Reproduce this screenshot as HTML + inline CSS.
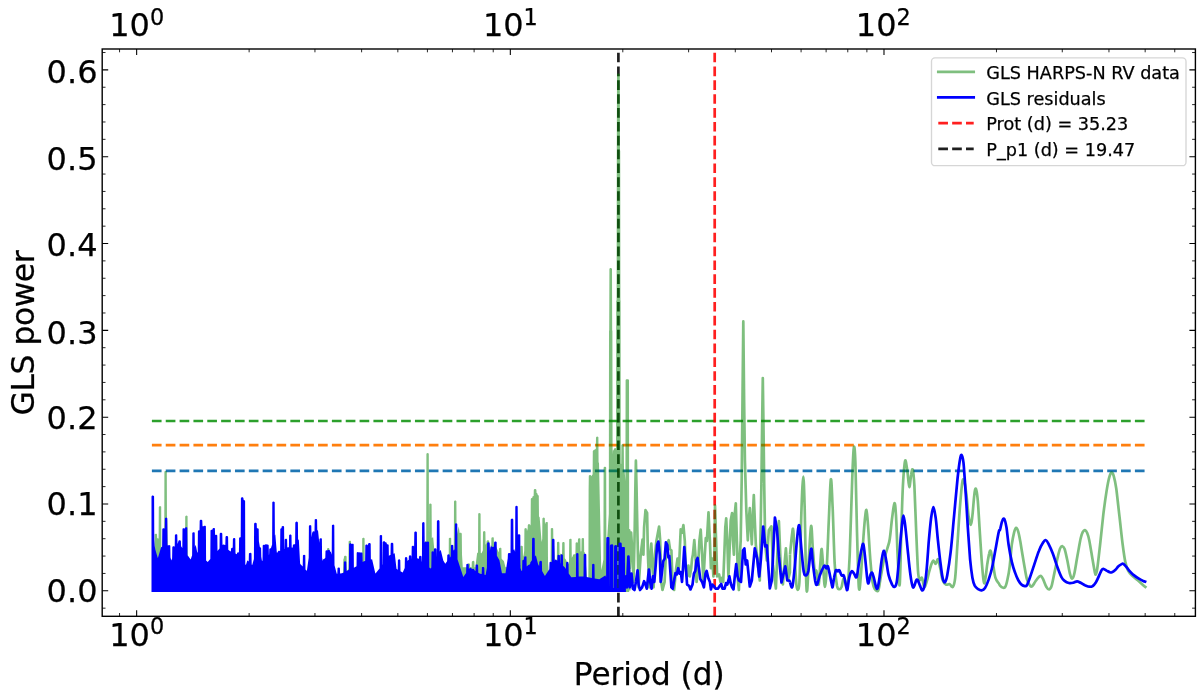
<!DOCTYPE html>
<html lang="en"><head><meta charset="utf-8"><title>GLS periodogram</title>
<style>html,body{margin:0;padding:0;background:#fff;overflow:hidden}svg{display:block}</style></head>
<body>
<svg width="1200" height="697" viewBox="0 0 1200 697" font-family="'DejaVu Sans', 'Liberation Sans', sans-serif" fill="#000">
<style>text{stroke:#000;stroke-width:0.25px}</style>
<rect x="0" y="0" width="1200" height="697" fill="#fff"/>
<line x1="151.9" x2="1144.7" y1="421.0" y2="421.0" stroke="#2ca02c" stroke-width="2.7" stroke-dasharray="9.67 4.175"/>
<line x1="151.9" x2="1144.7" y1="445.2" y2="445.2" stroke="#ff7f0e" stroke-width="2.7" stroke-dasharray="9.67 4.175"/>
<line x1="151.9" x2="1144.7" y1="470.9" y2="470.9" stroke="#1f77b4" stroke-width="2.7" stroke-dasharray="9.67 4.175"/>
<line x1="714.7" x2="714.7" y1="616.3" y2="49.0" stroke="#ff0000" stroke-opacity="0.88" stroke-width="2.7" stroke-dasharray="9.67 4.18"/>
<line x1="618.4" x2="618.4" y1="616.3" y2="49.0" stroke="#000000" stroke-opacity="0.88" stroke-width="2.7" stroke-dasharray="9.67 4.18"/>
<g opacity="0.5" fill="none" stroke="#008000" stroke-width="2.7" stroke-linejoin="round" stroke-linecap="butt">
<path d="M152.0,591.9L152.0,586.4L154.0,580.4L154.4,565.7L154.6,534.5L155.0,534.0L155.8,533.7L156.4,533.8L156.8,534.1L157.0,534.4L157.2,538.2L158.0,538.3L158.4,538.5L158.6,538.7L158.8,506.9L159.2,506.4L160.0,506.1L160.6,506.2L161.0,506.5L161.2,506.8L161.4,560.2L164.0,560.3L164.2,558.2L164.4,471.6L164.8,471.2L165.6,470.9L166.2,471.1L166.6,471.4L166.8,471.8L167.0,520.6L167.2,517.9L168.6,580.4L184.0,580.4L184.2,580.0L185.0,575.5L185.2,516.4L185.6,515.9L186.4,515.6L187.0,515.7L187.4,516.0L187.6,516.3L187.8,560.0L188.6,555.5L189.6,579.1L189.8,580.4L326.8,585.4L327.0,548.8L327.4,548.3L328.2,548.0L328.8,548.1L329.2,548.4L329.4,548.7L329.6,585.4L342.6,585.4L342.8,584.4L343.2,562.4L343.4,558.1L343.8,559.4L344.0,556.8L344.2,556.3L344.8,555.8L345.6,555.8L346.2,556.1L346.4,556.3L346.6,556.8L346.8,569.0L347.4,571.0L347.6,571.0L348.4,568.3L348.6,541.5L349.0,541.0L349.8,540.7L350.4,540.8L350.8,541.1L351.0,541.4L351.2,559.0L352.2,555.6L352.4,557.6L353.2,581.6L353.4,585.4L362.0,585.4L362.2,538.4L362.6,537.9L363.4,537.7L364.0,537.8L364.4,538.2L364.6,538.5L364.8,585.4L424.6,585.4L425.2,541.2L426.2,540.7L426.4,453.9L426.8,453.3L427.4,453.1L428.2,453.2L428.6,453.4L428.8,453.7L429.0,539.3L429.2,504.2L429.6,503.8L430.4,503.5L431.0,503.7L431.4,504.0L431.6,504.4L431.8,537.9L433.0,537.3L433.2,537.6L434.0,546.4L434.2,549.4L435.2,585.4L448.2,585.4L448.6,582.7L448.8,538.5L449.2,538.0L450.0,537.7L450.6,537.8L451.0,538.1L451.2,538.4L451.4,562.7L452.6,554.5L453.8,549.0L454.0,501.4L454.4,500.8L455.0,500.5L455.8,500.6L456.2,500.9L456.4,501.2L456.6,536.1L458.6,526.9L458.8,526.4L459.6,533.0L460.2,532.7L461.0,532.8L461.4,533.0L461.6,533.3L461.8,533.9L462.0,554.5L462.8,567.3L467.4,567.3L467.6,564.0L468.0,563.5L468.8,563.3L469.4,563.4L469.8,563.7L470.0,564.0L470.2,567.3L471.6,567.3L471.8,562.0L472.0,561.4L472.6,560.9L473.4,560.8L474.0,561.1L474.2,561.3L474.4,561.7L474.6,567.3L475.2,567.3L475.4,566.8L477.0,553.9L477.2,552.7L478.0,552.8L478.2,513.7L478.6,513.3L479.4,513.1L480.0,513.2L480.4,513.6L480.6,513.9L480.8,553.1L481.4,553.2L481.6,553.1L482.8,550.6L483.0,531.8L483.4,531.4L484.2,531.1L484.8,531.3L485.2,531.6L485.4,532.0L485.6,544.8L486.4,543.2L486.6,541.2L486.8,540.7L487.4,540.3L488.2,540.2L488.8,540.5L489.0,540.8L489.2,541.3L489.4,546.4L490.2,547.2L491.2,547.2L491.4,537.9L491.8,537.4L492.6,537.2L493.2,537.3L493.6,537.6L493.8,537.9L494.0,547.2L496.4,547.2L498.8,552.4L499.0,548.5L499.4,548.0L500.2,547.7L500.8,547.8L501.2,548.1L501.4,548.4L501.6,558.5L502.0,559.3L503.8,561.1L504.0,561.5L505.4,567.0L505.6,567.3L520.2,565.0L520.4,546.3L521.0,545.8L521.8,545.7L522.4,546.0L522.8,546.6L523.0,557.0L523.6,554.9L524.2,550.7L524.4,528.8L524.8,528.4L525.6,528.1L526.2,528.3L526.6,528.6L526.8,529.0L527.0,531.4L527.2,530.1L527.4,529.4L527.6,529.2L527.8,525.0L528.2,524.4L528.8,524.1L529.6,524.2L530.0,524.5L530.2,524.7L530.4,525.4L530.6,525.1L530.8,499.0L531.0,498.6L531.6,498.1L532.2,498.0L532.4,496.7L532.8,496.3L533.6,496.0L533.8,490.0L534.0,489.5L534.6,489.1L535.4,489.0L536.0,489.3L536.2,489.6L536.4,490.1L536.6,493.0L537.2,493.3L537.4,493.6L537.6,494.1L537.8,495.0L538.4,495.3L538.8,495.8L539.0,517.2L539.6,516.6L541.6,542.0L542.2,539.0L542.4,518.4L542.8,517.9L543.6,517.6L544.2,517.7L544.6,518.0L544.8,518.3L545.0,523.8L545.2,524.1L545.4,522.8L545.8,522.2L546.6,521.9L547.2,522.0L547.6,522.3L547.8,522.6L548.0,563.0L549.4,579.8L549.6,578.9L550.6,569.1L550.8,528.6L551.2,528.2L552.0,527.9L552.6,528.1L553.0,528.4L553.2,528.8L553.4,541.8L553.6,539.8L553.8,541.5L555.2,565.2L556.8,561.7L557.0,542.4L557.4,541.9L558.2,541.7L558.8,541.8L559.2,542.2L559.4,542.5L559.6,555.6L560.6,553.4L560.8,553.4L562.0,554.8L562.2,542.8L562.6,542.3L563.4,542.0L564.0,542.1L564.4,542.4L564.6,542.7L564.8,558.2L565.8,559.4L568.2,564.2L569.0,562.9L569.2,539.5L569.6,539.0L570.4,538.7L571.0,538.8L571.4,539.1L571.6,539.4L571.8,557.8L572.8,556.0L573.0,555.1L573.4,554.5L574.0,554.3L575.0,554.3L575.4,554.1L575.6,542.9L576.0,542.4L576.8,542.2L577.4,542.4L577.8,542.7L578.0,539.1L578.4,538.5L579.0,538.2L579.8,538.3L580.2,538.6L580.4,538.8L580.6,551.5L581.0,551.3L581.4,551.3L581.6,538.7L582.0,538.2L582.8,538.0L583.4,538.1L583.8,538.4L584.0,538.8L584.2,552.1L584.6,552.2L584.8,552.3L588.2,590.3L588.4,564.0L588.6,490.0L588.8,475.8L589.2,475.3L590.0,475.0L590.6,475.1L591.0,475.4L591.2,475.7L591.4,476.3L592.6,474.3L592.8,451.0L593.2,450.4L593.8,450.1L594.2,450.1L594.6,449.5L595.2,449.2L595.8,449.1L596.0,437.5L596.4,436.9L597.0,436.6L597.8,436.7L598.2,437.0L598.4,437.2L598.6,463.0L599.0,462.3L601.2,566.8L601.4,570.0L603.4,559.6L603.6,467.7L603.8,467.3L604.4,466.8L605.2,466.7L605.8,467.0L606.0,467.3L606.2,467.8L606.4,544.1L607.0,541.0L608.8,513.8L609.0,330.7L609.2,330.5L609.4,268.9L609.6,268.5L610.2,268.1L611.0,268.0L611.6,268.4L611.8,268.6L612.0,269.2L612.2,330.4L612.4,330.7L612.6,454.2L612.8,451.1L613.0,449.3L613.8,450.7L614.0,448.7L614.6,448.2L615.4,448.1L616.0,448.4L616.2,301.0L616.6,300.3L616.8,150.7L617.0,74.7L617.2,74.1L617.8,73.6L618.8,73.5L619.4,73.8L619.8,74.2L620.0,150.5L620.2,150.8L620.4,300.4L620.6,300.6L620.8,463.4L621.2,464.1L621.4,445.0L621.8,444.4L622.4,444.1L623.2,444.2L623.6,444.5L623.8,444.7L624.0,469.2L624.4,469.9L624.6,470.6L625.4,481.0L625.6,380.1L625.8,379.7L626.4,379.2L628.0,379.2L628.6,379.5L628.8,379.7L629.0,380.3L629.2,530.4L629.2,591.9Z" fill="#008000" stroke="none"/>
<path d="M629.2,590.6L629.2,530.4L629.8,568.2L631.1,532.7L632.5,554.6L633.5,581.9L634.5,540.9L635.4,486.4L635.9,460.7L636.5,486.4L637.6,540.9L638.6,587.3L640.7,554.6L642.5,539.6L643.4,554.6L644.1,527.3L645.5,510.2L647.1,513.0L647.9,554.6L649.3,587.3L650.2,554.6L651.3,543.7L652.3,561.4L653.6,587.3L655.0,554.6L656.4,540.9L657.7,534.1L659.1,526.6L660.2,540.9L661.2,581.9L662.5,590.0L664.6,581.9L665.9,554.6L667.3,543.7L668.7,540.2L670.0,549.1L671.4,550.5L672.5,581.9L674.1,590.0L676.2,568.2L677.5,558.7L678.9,568.2L679.6,554.6L680.7,529.3L682.0,532.7L683.4,525.2L684.8,540.9L685.7,568.2L687.1,576.4L688.4,565.5L689.8,576.4L691.2,568.2L692.1,558.7L692.9,554.6L694.3,540.2L695.4,554.6L696.6,581.9L698.0,568.2L699.4,540.9L700.7,529.7L702.1,554.6L703.4,581.9L704.8,554.6L705.8,538.2L706.9,540.9L708.5,512.3L709.9,540.9L710.9,568.2L712.3,558.7L713.4,576.4L714.4,554.6L715.0,505.5L716.1,540.9L717.1,576.4L719.1,574.4L720.5,581.9L721.9,577.8L723.2,581.9L724.3,554.6L725.3,527.3L726.2,518.4L727.3,540.9L728.4,576.4L729.4,554.6L730.7,520.5L732.1,513.0L733.0,540.9L733.9,554.6L734.8,513.6L735.8,503.4L736.9,540.9L738.0,581.9L738.9,590.0L739.9,554.6L740.7,540.3L741.7,480.1L742.5,399.8L743.3,321.4L744.1,399.8L744.9,460.0L746.3,510.2L747.8,540.3L748.8,520.2L749.8,508.2L750.8,526.3L751.8,544.3L752.8,516.2L753.8,495.1L754.8,520.2L755.8,544.3L757.8,564.4L759.8,580.5L760.6,530.3L761.4,484.1L762.2,419.8L762.8,378.1L763.4,419.8L764.2,484.1L765.2,544.3L766.8,560.4L768.8,530.3L771.4,526.3L772.9,564.4L775.9,588.5L777.5,550.4L778.9,521.2L780.1,550.4L780.9,572.4L782.9,584.5L784.5,564.4L785.9,548.4L786.9,564.4L787.9,580.5L789.9,572.4L790.0,554.7"/>
<path d="M790.0,554.7C790.3,551.7 791.3,540.6 791.8,536.4C792.4,532.2 792.8,526.4 793.2,529.5C793.7,532.6 794.1,545.6 794.6,554.7C795.1,563.9 795.8,578.8 796.4,584.6C797.0,590.3 797.7,590.3 798.3,589.2C798.8,588.0 799.1,591.1 799.6,577.7C800.2,564.3 800.9,525.7 801.5,508.8C802.1,492.0 802.8,476.7 803.3,476.7C803.8,476.7 804.2,492.0 804.7,508.8C805.1,525.7 805.6,564.1 806.1,577.7C806.5,591.3 806.8,593.4 807.2,590.3C807.7,587.2 808.2,570.0 808.8,559.3C809.5,548.6 810.4,527.6 811.1,526.0C811.8,524.5 812.3,542.5 812.9,550.1C813.6,557.8 814.2,568.5 814.8,571.9C815.4,575.4 815.7,568.7 816.4,570.8C817.0,572.9 818.0,585.7 818.7,584.6C819.3,583.4 819.8,569.8 820.3,563.9C820.8,558.0 821.2,548.2 821.7,549.0C822.2,549.8 822.7,562.2 823.3,568.5C823.8,574.8 824.3,586.9 824.9,586.9C825.5,586.9 826.1,578.4 826.7,568.5C827.3,558.6 827.9,542.0 828.5,527.2C829.2,512.4 830.2,482.5 830.8,479.5C831.5,476.4 832.0,494.8 832.7,508.8C833.3,522.9 834.0,551.1 834.7,563.9C835.5,576.7 836.3,581.5 837.0,585.7C837.8,589.9 838.6,589.0 839.3,589.2C840.1,589.3 840.9,588.8 841.6,586.9C842.4,584.9 843.0,577.7 843.9,577.7C844.9,577.7 846.4,590.7 847.4,586.9C848.3,583.0 848.9,571.6 849.7,554.7C850.4,537.9 851.3,503.7 852.0,485.9C852.6,468.1 853.2,451.9 853.8,448.0C854.4,444.2 854.9,449.0 855.4,462.9C855.9,476.9 856.4,511.1 857.0,531.8C857.6,552.4 858.2,579.2 858.8,586.9C859.5,594.5 860.0,584.9 860.7,577.7C861.4,570.4 862.3,552.8 863.0,543.3C863.7,533.7 864.2,525.9 864.8,520.3C865.4,514.8 865.9,509.2 866.4,510.0C866.9,510.8 867.4,516.7 868.0,524.9C868.7,533.1 869.5,549.8 870.3,559.3C871.1,568.9 871.8,577.3 872.6,582.3C873.4,587.2 873.9,587.8 874.9,589.2C875.9,590.5 877.4,592.2 878.3,590.3C879.3,588.4 879.7,582.8 880.6,577.7C881.6,572.5 882.9,564.3 884.1,559.3C885.2,554.3 886.6,551.3 887.5,547.8C888.5,544.4 889.1,543.6 889.8,538.7C890.6,533.7 891.3,523.9 892.1,518.0C892.9,512.1 893.8,503.5 894.4,503.1C895.1,502.7 895.4,506.4 896.0,515.7C896.6,525.1 897.2,547.8 897.8,559.3C898.5,570.8 899.1,589.2 899.7,584.6C900.3,580.0 900.8,548.2 901.3,531.8C901.8,515.3 902.3,497.4 902.9,485.9C903.5,474.4 904.2,467.0 904.7,462.9C905.2,458.9 905.4,460.3 905.9,461.8C906.3,463.3 906.9,467.9 907.5,472.1C908.1,476.3 908.7,486.7 909.3,487.0C909.9,487.4 910.6,477.3 911.2,474.4C911.7,471.6 912.2,467.9 912.8,469.8C913.3,471.7 913.8,475.6 914.4,485.9C914.9,496.2 915.6,517.6 916.2,531.8C916.8,545.9 917.5,562.8 918.0,570.8C918.6,578.8 919.0,578.8 919.6,580.0C920.3,581.1 921.2,576.5 921.9,577.7C922.7,578.8 923.5,586.1 924.2,586.9C925.0,587.6 925.8,584.6 926.5,582.3C927.3,580.0 928.1,576.0 928.8,573.1C929.6,570.2 930.4,567.2 931.1,565.1C931.9,563.0 932.6,560.7 933.4,560.5C934.2,560.3 934.9,564.1 935.7,563.9C936.5,563.7 937.2,558.6 938.0,559.3C938.8,560.1 939.5,565.1 940.3,568.5C941.1,571.9 941.6,577.3 942.6,580.0C943.5,582.6 944.9,583.9 946.0,584.6C947.2,585.3 948.3,583.7 949.5,584.1C950.6,584.5 952.0,587.9 952.9,586.9C953.9,585.8 954.4,584.9 955.2,577.7C956.0,570.4 956.7,554.7 957.5,543.3C958.3,531.8 959.0,518.8 959.8,508.8C960.6,498.9 961.4,488.4 962.1,483.6C962.8,478.8 963.2,478.6 963.9,480.2C964.6,481.7 965.5,486.8 966.2,492.8C967.0,498.7 967.8,510.4 968.5,515.7C969.3,521.1 970.2,524.9 970.8,524.9C971.5,524.9 971.8,520.7 972.4,515.7C973.0,510.8 973.7,499.6 974.3,495.1C974.8,490.6 975.3,487.9 975.9,488.6C976.4,489.4 977.1,493.2 977.7,499.7C978.3,506.1 978.9,517.3 979.5,527.2C980.2,537.1 980.9,550.1 981.6,559.3C982.3,568.5 983.2,579.2 983.9,582.3C984.5,585.3 984.9,580.7 985.5,577.7C986.1,574.6 986.7,567.9 987.3,563.9C988.0,559.9 988.6,555.7 989.2,553.6C989.7,551.5 990.1,549.6 990.8,551.3C991.4,553.0 992.3,559.5 993.1,563.9C993.8,568.3 994.4,574.4 995.4,577.7C996.3,580.9 998.0,582.1 998.8,583.4C999.6,584.7 999.3,584.9 1000.0,585.6C1000.7,586.4 1002.3,587.6 1003.2,587.8C1004.1,588.0 1004.7,588.1 1005.4,586.7C1006.1,585.3 1006.8,582.6 1007.5,579.2C1008.3,575.8 1009.0,572.0 1009.7,566.3C1010.4,560.5 1011.1,550.3 1011.8,544.7C1012.6,539.2 1013.3,535.7 1014.0,532.9C1014.7,530.1 1015.4,528.1 1016.1,527.9C1016.9,527.8 1017.6,529.4 1018.3,531.8C1019.0,534.2 1019.6,537.5 1020.5,542.6C1021.3,547.6 1022.6,555.8 1023.7,561.9C1024.8,568.0 1025.8,575.2 1026.9,579.2C1028.0,583.1 1029.2,584.5 1030.1,585.6C1031.0,586.8 1031.4,586.8 1032.3,586.1C1033.2,585.3 1034.4,582.8 1035.5,581.3C1036.6,579.8 1037.9,577.9 1038.8,577.0C1039.6,576.1 1040.2,575.6 1040.9,575.9C1041.6,576.3 1042.2,577.4 1043.1,579.2C1044.0,581.0 1045.3,585.0 1046.3,586.7C1047.3,588.4 1048.2,589.7 1049.1,589.5C1050.0,589.3 1050.7,588.8 1051.7,585.6C1052.6,582.5 1053.8,575.6 1054.9,570.6C1056.0,565.5 1057.2,559.3 1058.1,555.5C1059.0,551.7 1059.6,549.5 1060.3,548.0C1061.0,546.4 1061.7,546.1 1062.4,546.2C1063.2,546.4 1063.8,546.8 1064.6,549.0C1065.4,551.3 1066.3,555.7 1067.2,559.8C1068.1,563.9 1069.1,570.6 1070.0,573.8C1070.8,576.9 1071.4,578.7 1072.1,578.7C1072.8,578.7 1073.4,577.7 1074.3,573.8C1075.2,569.9 1076.4,561.4 1077.5,555.5C1078.6,549.6 1079.8,542.2 1080.7,538.3C1081.6,534.3 1082.2,533.2 1082.9,531.8C1083.6,530.4 1084.3,529.9 1085.0,530.1C1085.8,530.3 1086.5,531.2 1087.2,532.9C1087.9,534.6 1088.4,535.9 1089.3,540.4C1090.2,544.9 1091.7,554.6 1092.6,559.8C1093.5,565.0 1094.2,569.2 1094.7,571.6C1095.3,574.1 1095.4,575.0 1095.8,574.4C1096.2,573.9 1096.6,573.4 1097.3,568.4C1098.0,563.5 1099.1,553.7 1100.1,544.7C1101.1,535.8 1102.3,523.6 1103.3,514.6C1104.4,505.6 1105.6,497.2 1106.6,490.9C1107.6,484.6 1108.5,480.0 1109.4,476.9C1110.2,473.9 1110.8,472.8 1111.5,472.6C1112.2,472.4 1112.9,473.1 1113.7,475.8C1114.5,478.5 1115.3,481.9 1116.3,488.8C1117.2,495.6 1118.4,507.4 1119.5,516.7C1120.6,526.1 1121.7,537.2 1122.7,544.7C1123.7,552.3 1124.4,557.6 1125.3,561.9C1126.2,566.3 1126.9,568.2 1128.1,570.6C1129.3,572.9 1130.8,574.3 1132.4,575.9C1134.0,577.6 1136.0,578.7 1137.8,580.2C1139.6,581.8 1141.7,583.9 1143.2,585.2C1144.6,586.5 1145.9,587.4 1146.4,587.8"/>
</g>
<g fill="none" stroke="#0000ff" stroke-width="2.7" stroke-linejoin="round" stroke-linecap="butt">
<path d="M151.5,591.9L151.5,496.7L151.7,496.1L152.3,495.6L153.1,495.6L153.7,495.9L153.9,496.1L154.1,496.5L154.3,540.0L154.7,545.9L155.3,549.5L157.7,557.8L157.9,558.1L161.1,547.2L162.1,546.8L162.3,529.1L162.7,528.5L163.3,528.2L164.1,528.3L164.5,528.5L164.7,528.8L164.9,518.3L165.3,517.9L166.1,517.6L166.7,517.8L167.1,518.1L167.3,518.4L167.5,544.7L167.9,545.7L168.3,545.3L169.1,545.0L169.7,545.2L170.1,545.5L170.3,545.8L170.5,557.2L171.3,560.6L172.1,558.4L172.3,547.3L172.5,546.8L173.1,546.3L173.9,546.3L174.5,546.6L174.7,546.8L174.9,535.0L175.3,534.5L176.1,534.2L176.7,534.3L177.1,534.6L177.3,534.9L177.5,543.9L178.1,542.3L178.5,540.8L179.1,540.3L179.9,540.2L180.5,540.5L180.7,540.8L180.9,541.2L181.1,546.3L182.3,548.0L182.5,528.8L183.1,528.3L183.9,528.2L184.5,528.5L184.7,528.7L184.9,528.0L185.3,527.5L185.9,527.2L186.7,527.3L187.1,527.5L187.3,527.8L187.5,555.2L190.5,559.3L190.7,559.5L192.1,555.3L192.3,532.9L192.7,532.4L193.5,532.2L194.1,532.3L194.5,532.6L194.7,533.0L194.9,547.0L195.7,544.8L197.1,551.8L197.3,552.3L197.7,552.7L197.9,531.2L198.1,530.7L198.7,530.3L199.5,530.2L199.7,520.7L199.9,520.2L200.5,519.7L201.3,519.7L201.9,520.0L202.1,520.2L202.3,520.6L202.5,526.2L203.3,526.2L203.5,526.3L204.3,525.7L205.1,525.7L205.7,526.1L205.9,526.4L206.1,560.5L207.7,562.0L210.3,559.1L210.5,530.5L210.9,530.0L211.5,529.7L212.3,529.8L212.5,528.9L212.9,528.3L213.5,528.0L214.3,528.1L214.7,528.3L214.9,528.6L215.1,535.1L215.7,534.7L216.5,534.8L217.1,535.2L217.3,535.5L217.5,550.9L219.5,548.6L219.7,533.7L219.9,533.2L220.5,532.8L221.3,532.7L221.9,533.0L222.1,533.3L222.3,533.8L222.5,545.1L223.3,544.2L223.7,544.8L224.5,544.7L225.1,545.0L225.3,545.2L225.5,537.1L225.7,536.6L226.3,536.1L227.1,536.0L227.7,536.3L227.9,536.6L228.1,537.0L228.3,549.8L229.9,551.1L230.9,551.5L231.1,548.6L231.5,548.0L232.3,547.7L232.7,547.8L232.9,538.8L233.3,538.3L234.1,538.0L234.7,538.1L235.1,538.4L235.3,538.7L235.5,553.6L236.9,554.3L237.1,553.1L237.5,552.6L238.1,552.3L238.9,552.4L239.1,538.1L239.5,537.5L240.1,537.2L240.7,537.2L240.9,498.2L241.3,497.6L241.9,497.3L242.7,497.3L243.1,497.6L243.3,497.9L243.5,498.5L243.7,500.1L244.5,500.2L244.9,500.5L245.1,500.8L245.3,564.3L245.9,565.0L247.3,560.6L247.5,560.4L248.7,561.6L248.9,553.8L249.1,553.3L249.7,552.9L250.5,552.8L251.1,553.1L251.3,553.3L251.5,553.8L251.7,564.5L252.1,564.9L252.3,564.7L253.9,559.0L254.1,523.9L254.3,523.3L254.9,522.7L255.7,522.7L256.3,523.0L256.5,523.2L256.7,523.6L256.9,528.3L257.7,528.2L258.3,528.5L258.7,529.1L258.9,541.3L259.9,547.2L260.5,547.4L260.9,547.6L261.1,547.9L261.3,556.7L261.9,560.6L262.1,560.9L262.5,560.5L262.7,545.6L263.1,545.0L263.7,544.7L264.5,544.8L264.7,544.9L265.5,544.3L266.3,544.2L266.9,544.5L267.7,544.4L268.3,544.7L268.7,545.2L268.9,554.9L269.1,554.3L269.3,549.0L269.7,548.5L270.5,548.2L270.9,548.3L272.1,544.6L272.3,502.3L272.7,501.8L273.5,501.5L274.1,501.7L274.5,502.0L274.7,502.2L274.9,535.5L275.3,534.2L276.7,551.1L276.9,552.7L277.7,552.3L277.9,551.4L278.5,550.8L279.3,550.7L280.1,551.1L280.3,529.0L280.7,528.4L281.3,528.2L281.5,528.1L281.7,526.6L282.1,526.2L282.9,525.9L283.5,526.1L283.9,526.4L284.1,526.8L284.3,549.0L284.5,548.9L284.7,539.4L285.1,538.9L285.9,538.7L286.5,538.8L286.9,539.2L287.1,539.5L287.3,547.5L287.9,547.2L288.9,547.3L289.1,535.2L289.5,534.7L290.3,534.5L290.9,534.6L291.3,534.9L291.5,535.2L291.7,547.6L292.3,547.7L292.7,547.2L292.9,545.0L293.3,544.5L294.1,544.2L294.7,544.3L294.9,544.3L295.1,544.0L295.3,522.7L295.5,522.2L296.1,521.7L296.9,521.6L297.5,521.9L297.7,522.2L297.9,522.6L298.1,540.1L298.7,539.3L298.9,540.7L300.1,563.2L300.3,563.9L302.7,566.5L302.9,555.6L303.3,555.0L304.1,554.7L304.7,554.9L305.1,555.1L305.3,555.4L305.5,569.5L306.7,570.8L306.9,570.7L308.7,557.7L308.9,526.0L309.3,525.4L309.9,525.1L310.7,525.2L311.1,525.5L311.3,525.8L311.5,537.5L312.1,533.2L312.5,532.1L312.9,531.6L313.7,531.3L314.3,531.5L314.5,531.6L314.7,519.6L315.1,519.2L315.9,518.9L316.5,519.0L316.9,519.4L317.1,519.7L317.3,530.4L317.9,530.2L318.1,531.2L319.3,542.7L319.5,538.9L319.9,538.4L320.7,538.2L321.3,538.3L321.7,538.6L321.9,538.9L322.1,557.7L322.7,560.9L322.9,559.9L323.1,559.4L323.7,558.9L324.5,558.8L325.3,557.8L325.5,551.0L325.9,550.5L326.7,550.2L327.3,550.3L327.5,550.5L328.1,549.9L328.9,549.7L329.5,550.0L329.9,550.4L330.1,552.0L330.7,551.3L331.7,554.8L331.9,525.3L332.3,524.9L333.1,524.6L333.7,524.8L334.1,525.1L334.3,525.5L334.5,565.2L336.7,573.4L336.9,573.7L337.3,573.7L337.5,568.2L337.9,567.7L338.7,567.5L339.3,567.6L339.7,568.0L339.9,568.3L340.1,573.4L341.9,573.3L343.7,572.4L343.9,562.0L344.3,561.5L345.1,561.3L345.7,561.4L346.1,561.7L346.3,562.0L346.5,571.0L348.9,569.8L349.1,544.0L349.5,543.5L350.3,543.2L350.9,543.3L351.3,543.6L351.5,543.9L351.7,544.0L352.5,543.7L353.1,543.8L353.5,544.1L353.7,544.4L353.9,567.7L356.5,566.3L356.7,552.7L357.1,552.3L357.9,552.0L358.5,552.2L358.9,552.5L359.7,552.2L360.3,552.4L360.7,552.6L361.5,552.4L362.1,552.6L362.5,553.1L362.7,562.1L363.9,561.3L365.1,561.0L365.3,545.4L365.5,545.0L366.1,544.5L366.9,544.4L367.5,544.8L367.7,545.0L367.9,545.5L368.1,544.0L368.3,543.6L368.9,543.1L369.7,543.0L370.3,543.3L370.5,543.6L370.7,544.0L370.9,559.6L372.1,559.3L375.3,573.2L375.5,573.6L379.5,568.4L379.7,535.8L380.1,535.3L380.7,535.0L381.5,535.1L381.9,535.4L382.1,535.6L382.3,564.7L382.5,564.4L382.7,542.1L383.1,541.5L383.7,541.2L384.5,541.3L384.9,541.6L385.3,542.2L386.1,542.3L386.5,542.7L386.7,543.0L386.9,544.3L387.7,544.2L388.3,544.5L388.7,545.0L388.9,556.0L389.5,555.2L390.5,554.9L390.7,543.8L390.9,543.3L391.5,542.8L392.3,542.7L392.9,543.0L393.1,543.3L393.3,543.7L393.5,553.7L394.7,553.2L396.5,568.7L396.7,569.1L397.7,569.7L397.9,559.9L398.5,559.4L399.3,559.3L399.9,559.6L400.3,560.2L400.5,571.2L402.7,572.5L404.7,567.9L404.9,557.7L405.3,557.3L406.1,557.0L406.7,557.2L407.1,557.5L407.3,557.9L407.5,561.2L407.9,560.3L408.7,560.1L408.9,556.0L409.3,555.5L410.1,555.2L410.7,555.4L411.1,555.7L411.3,556.0L411.5,559.5L411.7,546.5L412.1,546.0L412.9,545.7L413.5,545.8L413.9,546.2L414.1,546.5L414.3,532.4L414.5,531.9L415.1,531.4L415.9,531.4L416.5,531.7L416.7,531.9L416.9,532.4L417.1,558.4L417.9,558.3L418.9,559.1L419.1,556.6L419.5,556.0L420.3,555.7L420.9,555.9L421.3,556.2L421.5,556.4L421.7,561.4L421.9,561.5L422.1,523.0L422.5,522.4L423.3,522.1L423.9,522.2L424.3,522.5L424.5,522.8L424.7,542.6L425.1,542.0L425.7,541.7L426.5,541.8L426.7,541.9L427.5,541.4L428.3,541.5L428.9,541.9L429.1,542.2L429.3,567.6L430.5,568.6L430.7,568.6L431.3,567.5L431.5,551.9L431.9,551.5L432.7,551.2L433.3,551.4L433.7,551.7L433.9,549.2L434.1,548.8L434.7,548.3L435.5,548.3L436.1,548.6L436.3,548.8L436.5,549.3L436.7,557.3L436.9,521.1L437.1,520.7L437.7,520.2L438.5,520.1L439.1,520.5L439.3,520.7L439.5,521.2L439.7,551.6L440.7,549.7L443.3,560.4L445.1,563.6L445.3,563.7L447.1,561.3L447.3,554.9L447.9,554.4L448.7,554.3L449.3,554.6L449.7,555.1L449.9,557.7L450.7,556.3L450.9,545.4L451.3,544.9L452.1,544.7L452.7,544.9L453.1,545.2L453.3,545.6L453.5,550.7L454.1,549.5L454.3,549.3L454.7,550.6L454.9,524.0L455.3,523.6L456.1,523.3L456.7,523.5L457.1,523.8L457.3,524.1L457.5,559.2L463.3,577.0L466.1,573.1L466.3,564.6L466.7,564.1L467.5,563.8L468.1,563.9L468.5,564.2L468.7,564.5L468.9,569.1L469.9,567.7L470.1,567.5L472.3,568.9L473.3,568.8L473.9,569.1L474.3,569.7L474.5,570.3L475.5,570.9L475.7,565.0L476.1,564.6L476.9,564.4L477.5,564.5L477.9,564.9L478.1,565.2L478.3,572.7L480.1,573.7L481.7,574.1L481.9,567.6L482.3,567.1L483.1,566.9L483.7,567.0L484.1,567.4L484.3,567.7L484.5,574.8L485.5,575.0L485.7,574.4L486.9,567.7L487.1,543.2L487.3,542.8L487.9,542.3L488.7,542.2L489.3,542.5L489.5,542.8L489.7,543.2L489.9,550.8L490.9,545.2L491.9,547.0L492.1,547.0L492.9,546.7L493.5,546.8L493.9,547.1L494.1,542.6L494.3,542.0L494.9,541.5L495.7,541.4L496.3,541.7L496.5,541.9L496.7,542.3L496.9,555.8L499.3,560.0L499.5,560.6L501.9,573.0L502.1,573.3L505.3,573.3L505.5,573.2L507.7,558.6L507.9,554.1L508.1,553.6L508.7,553.1L509.5,553.1L510.1,553.3L510.5,552.9L510.7,519.7L510.9,519.2L511.5,518.7L512.3,518.6L512.9,518.9L513.1,519.2L513.3,519.6L513.5,549.9L514.1,549.3L514.3,549.5L515.1,551.8L515.3,506.7L515.7,506.1L516.5,505.8L517.1,506.0L517.5,506.3L517.7,506.5L517.9,534.8L518.5,534.3L519.3,534.2L519.9,534.5L520.3,535.1L520.5,567.9L521.5,570.9L521.7,570.9L522.1,570.5L522.3,560.7L522.7,560.1L523.3,559.8L523.9,559.8L524.1,557.2L524.5,556.6L525.1,556.3L525.9,556.4L526.3,556.6L526.5,556.9L526.7,566.4L528.3,565.0L530.1,564.2L530.3,562.5L531.9,560.3L532.1,538.7L532.3,538.2L532.9,537.8L533.7,537.7L534.3,538.0L534.5,538.3L534.7,538.7L534.9,556.4L535.7,555.4L535.9,555.6L538.1,564.2L539.1,566.0L539.3,562.0L539.5,561.4L540.1,560.9L540.9,560.8L541.5,561.1L541.9,561.7L542.1,571.1L544.9,575.9L549.3,569.2L549.5,562.5L549.9,562.0L550.7,561.8L551.3,561.9L551.7,562.3L551.9,539.6L552.1,539.2L552.7,538.8L553.5,538.7L554.1,539.0L554.3,539.3L554.5,539.9L554.7,560.8L555.7,559.3L557.3,560.7L557.5,555.5L557.9,555.0L558.7,554.7L559.3,554.9L559.7,555.2L559.9,555.5L560.1,563.2L560.3,563.4L560.5,555.0L560.9,554.5L561.7,554.2L562.3,554.4L562.7,554.7L562.9,555.0L563.1,565.8L564.7,567.3L565.9,569.1L566.1,562.4L566.7,561.9L567.5,561.8L568.1,562.1L568.5,562.7L568.7,573.4L571.3,577.3L575.9,576.9L576.1,553.7L576.5,553.3L577.3,553.0L577.9,553.2L578.3,553.5L578.5,553.8L578.7,576.6L583.5,576.6L583.7,554.8L583.9,554.3L584.5,553.8L585.3,553.8L585.9,554.1L586.1,554.3L586.3,554.8L586.5,577.0L591.9,577.9L592.1,564.6L592.5,564.1L593.3,563.8L593.9,563.9L594.3,564.2L594.5,564.5L594.7,578.4L599.3,579.3L605.3,575.4L605.5,575.6L606.1,577.3L606.3,537.7L606.7,537.2L607.5,537.0L607.9,537.0L608.7,537.0L609.3,537.4L609.5,537.7L609.7,587.4L609.9,545.4L610.1,544.9L610.7,544.4L612.3,544.3L612.9,544.6L613.1,544.9L613.3,545.3L613.5,588.0L613.9,588.0L614.1,545.9L614.5,545.4L615.3,545.1L616.5,545.2L617.1,545.5L617.3,545.8L617.5,588.0L618.3,588.0L618.5,543.1L618.9,542.7L619.7,542.5L620.9,542.6L621.3,542.8L621.7,543.4L621.9,547.2L622.5,546.9L624.1,546.9L624.7,547.3L624.9,547.7L625.1,588.0L625.9,588.0L625.9,591.9Z" fill="#0000ff" stroke="none"/>
<path d="M625.9,588.0L626.1,576.4L627.0,587.3L628.4,556.6L629.8,587.3L631.5,573.7L632.9,588.7L634.5,590.0L635.9,581.9L637.6,570.3L638.6,584.6L640.0,590.0L642.1,587.3L644.1,581.2L645.5,584.6L646.8,588.7L648.9,569.6L650.2,581.9L651.6,588.7L653.0,576.4L654.3,581.9L655.7,565.5L657.1,545.0L658.4,541.6L659.8,554.6L660.7,581.9L661.8,573.7L663.2,561.4L664.6,558.7L665.9,542.3L667.3,545.0L668.4,557.3L669.3,555.9L670.7,576.4L671.4,587.3L672.7,588.7L673.8,581.9L675.5,573.0L676.8,574.4L678.2,568.2L679.6,573.7L680.9,572.3L682.0,581.9L683.0,568.2L684.3,547.1L685.7,565.5L687.1,584.6L689.1,585.9L690.5,589.4L692.5,584.6L693.9,573.7L695.3,570.9L696.6,560.0L697.6,558.0L698.9,568.2L700.3,579.1L702.1,581.9L703.9,587.3L705.5,573.7L706.6,570.9L708.2,577.8L709.9,581.9L710.9,589.4L712.3,584.6L713.7,585.9L715.7,588.7L717.8,588.7L719.8,585.9L721.2,583.9L722.5,588.7L724.6,588.7L726.0,583.2L727.3,584.6L729.4,576.4L730.7,583.2L732.1,587.3L733.5,589.4L734.8,576.4L736.2,564.1L737.6,576.4L738.9,580.5L741.0,581.9L742.1,565.5L743.0,550.5L744.4,548.4L745.7,564.4L747.1,560.4L749.8,586.5L751.8,580.5L754.8,548.4L757.2,558.4L759.2,576.5L760.8,560.4L763.2,526.7L765.2,546.3L766.8,545.3L769.8,588.5L771.8,580.5L774.9,517.6L776.9,528.3L778.9,556.4L781.5,582.5L783.3,574.5L785.3,566.4L787.3,580.5L789.3,580.5L790.0,582.3"/>
<path d="M790.0,582.3C790.4,583.0 791.5,589.2 792.3,586.9C793.1,584.6 793.8,576.1 794.6,568.5C795.4,560.9 796.1,548.2 796.9,541.0C797.6,533.8 798.4,523.8 799.2,525.4C799.9,526.9 800.7,542.4 801.5,550.1C802.2,557.9 803.0,567.7 803.8,571.9C804.5,576.1 805.3,575.6 806.1,575.4C806.8,575.2 807.7,574.2 808.4,570.8C809.0,567.4 809.7,558.4 810.2,554.7C810.7,551.1 811.1,547.5 811.6,549.0C812.0,550.5 812.3,558.6 812.9,563.9C813.6,569.3 814.6,577.7 815.2,581.1C815.9,584.6 816.3,585.5 817.1,584.6C817.8,583.6 818.8,578.3 819.8,575.4C820.9,572.5 822.4,569.0 823.3,567.4C824.1,565.7 824.4,565.6 824.9,565.7C825.4,565.9 825.8,568.4 826.3,568.5C826.8,568.6 827.3,565.4 827.9,566.2C828.4,567.0 828.8,570.0 829.5,573.1C830.1,576.1 831.2,582.3 831.8,584.6C832.3,586.9 832.3,588.0 832.7,586.9C833.1,585.7 833.5,580.4 834.1,577.7C834.6,574.9 835.3,571.4 835.9,570.3C836.5,569.3 837.2,571.3 837.7,571.3C838.3,571.3 838.7,569.6 839.3,570.3C840.0,571.0 840.9,574.5 841.6,575.4C842.4,576.3 843.2,573.9 843.9,575.8C844.7,577.8 845.6,584.6 846.2,586.9C846.8,589.2 846.9,591.1 847.4,589.6C847.9,588.1 848.5,580.7 849.2,577.7C849.9,574.7 850.7,572.2 851.5,571.5C852.3,570.7 852.9,572.1 853.8,573.1C854.6,574.0 855.7,578.7 856.5,577.2C857.4,575.7 858.0,568.6 858.8,563.9C859.7,559.2 860.8,552.2 861.6,549.0C862.4,545.7 862.8,542.7 863.4,544.4C864.0,546.1 864.7,553.8 865.3,559.3C865.9,564.9 866.6,573.7 867.1,577.7C867.6,581.7 867.9,583.8 868.5,583.4C869.0,583.0 869.7,577.2 870.3,575.4C870.9,573.6 871.6,572.2 872.1,572.6C872.7,573.0 873.1,575.3 873.8,577.7C874.4,580.0 875.4,585.1 876.0,586.9C876.7,588.6 877.1,589.5 877.7,588.0C878.2,586.5 878.8,582.5 879.5,577.7C880.2,572.9 881.0,563.8 881.8,559.3C882.6,554.8 883.3,550.4 884.1,550.8C884.8,551.2 885.6,557.5 886.4,561.6C887.1,565.7 887.7,571.6 888.7,575.4C889.6,579.2 891.2,582.6 892.1,584.6C893.1,586.5 893.6,587.2 894.4,586.9C895.2,586.5 895.9,586.9 896.7,582.3C897.5,577.7 898.2,567.7 899.0,559.3C899.8,550.9 900.5,539.1 901.3,531.8C902.1,524.5 902.8,515.7 903.6,515.7C904.3,515.7 905.1,525.3 905.9,531.8C906.6,538.3 907.4,547.5 908.2,554.7C908.9,562.0 909.7,570.0 910.5,575.4C911.2,580.7 912.1,585.1 912.8,586.9C913.4,588.6 913.8,586.8 914.4,585.7C914.9,584.6 915.7,581.4 916.2,580.4C916.7,579.5 917.0,579.3 917.6,580.0C918.2,580.7 918.9,582.8 919.6,584.6C920.4,586.3 921.2,589.9 921.9,590.3C922.7,590.7 923.5,590.1 924.2,586.9C925.0,583.6 925.8,578.4 926.5,570.8C927.3,563.1 928.1,549.8 928.8,541.0C929.6,532.2 930.4,523.7 931.1,518.0C931.9,512.4 932.6,507.0 933.4,507.0C934.2,507.0 934.9,512.4 935.7,518.0C936.5,523.7 937.2,533.7 938.0,541.0C938.8,548.2 939.5,555.5 940.3,561.6C941.1,567.7 941.8,574.2 942.6,577.7C943.4,581.1 944.1,582.6 944.9,582.3C945.7,581.9 946.2,580.4 947.2,575.4C948.1,570.4 949.5,562.4 950.6,552.4C951.8,542.5 952.9,528.0 954.1,515.7C955.2,503.5 956.6,488.2 957.5,479.0C958.5,469.8 959.1,464.7 959.8,460.7C960.5,456.6 961.0,454.5 961.6,454.9C962.3,455.3 962.8,457.0 963.5,462.9C964.1,468.9 964.8,479.8 965.5,490.5C966.3,501.2 967.1,515.7 967.8,527.2C968.6,538.7 969.4,550.9 970.1,559.3C970.9,567.7 971.7,573.3 972.4,577.7C973.2,582.1 973.8,583.8 974.7,585.7C975.7,587.6 977.0,588.4 978.2,589.2C979.3,589.9 980.5,590.5 981.6,590.3C982.7,590.1 983.9,589.7 985.0,588.0C986.2,586.3 987.3,583.2 988.5,580.0C989.6,576.7 990.8,573.5 991.9,568.5C993.1,563.5 994.2,556.3 995.4,550.1C996.5,544.0 998.0,535.2 998.8,531.8C999.6,528.4 999.4,531.4 1000.0,529.7C1000.6,527.9 1001.4,522.8 1002.2,521.0C1002.9,519.3 1003.6,517.8 1004.3,518.9C1005.0,520.0 1005.7,523.2 1006.5,527.5C1007.2,531.8 1007.7,539.0 1008.6,544.7C1009.5,550.5 1010.8,557.3 1011.8,561.9C1012.9,566.6 1014.0,569.7 1015.1,572.7C1016.1,575.8 1017.2,578.3 1018.3,580.2C1019.4,582.2 1020.5,583.6 1021.5,584.6C1022.6,585.5 1023.9,586.0 1024.8,586.1C1025.7,586.2 1026.0,586.7 1026.9,585.2C1027.8,583.7 1028.9,580.5 1030.1,577.0C1031.4,573.5 1033.0,568.4 1034.4,564.1C1035.9,559.8 1037.3,554.8 1038.8,551.2C1040.2,547.6 1041.9,544.4 1043.1,542.6C1044.2,540.7 1044.7,539.8 1045.6,540.0C1046.5,540.2 1047.3,541.4 1048.4,543.6C1049.6,545.9 1051.3,549.6 1052.7,553.3C1054.2,557.1 1055.6,562.3 1057.1,566.3C1058.5,570.2 1060.1,574.6 1061.4,577.0C1062.6,579.5 1063.3,579.9 1064.6,580.9C1065.8,581.9 1067.5,582.7 1068.9,583.0C1070.3,583.4 1071.8,583.1 1073.2,582.8C1074.6,582.5 1075.8,581.3 1077.1,581.3C1078.3,581.3 1079.4,582.2 1080.7,582.8C1082.1,583.5 1083.6,584.6 1085.0,585.2C1086.5,585.8 1088.1,586.6 1089.3,586.7C1090.6,586.8 1091.5,586.8 1092.6,586.1C1093.6,585.3 1094.7,584.1 1095.8,582.4C1096.9,580.7 1098.1,578.0 1099.0,575.9C1100.0,573.9 1100.9,571.3 1101.6,570.1C1102.3,568.9 1102.5,568.8 1103.3,568.8C1104.2,568.9 1105.5,570.0 1106.6,570.6C1107.6,571.1 1108.9,572.0 1109.8,572.3C1110.7,572.6 1111.1,572.6 1111.9,572.3C1112.8,571.9 1114.1,571.1 1115.2,570.1C1116.3,569.1 1117.3,567.3 1118.4,566.3C1119.5,565.2 1120.8,564.5 1121.6,564.1C1122.4,563.7 1122.4,563.3 1123.1,563.7C1123.9,564.0 1124.9,565.1 1125.9,566.3C1126.9,567.4 1127.9,569.1 1129.2,570.6C1130.4,572.0 1131.9,573.5 1133.5,574.9C1135.1,576.2 1137.2,577.7 1138.9,578.7C1140.5,579.7 1141.9,580.4 1143.2,580.9C1144.4,581.4 1145.9,581.8 1146.4,582.0"/>
</g>
<g stroke="#000" stroke-width="1.07" fill="none">
<path d="M136.65,616.3v-6.0M136.65,49.0v6.0"/>
<path d="M510.32,616.3v-6.0M510.32,49.0v6.0"/>
<path d="M883.99,616.3v-6.0M883.99,49.0v6.0"/>
<path d="M102.2,590.80h6.0M1195.4,590.80h-6.0"/>
<path d="M102.2,503.98h6.0M1195.4,503.98h-6.0"/>
<path d="M102.2,417.16h6.0M1195.4,417.16h-6.0"/>
<path d="M102.2,330.34h6.0M1195.4,330.34h-6.0"/>
<path d="M102.2,243.52h6.0M1195.4,243.52h-6.0"/>
<path d="M102.2,156.70h6.0M1195.4,156.70h-6.0"/>
<path d="M102.2,69.88h6.0M1195.4,69.88h-6.0"/>
</g>
<g stroke="#000" stroke-width="0.85" fill="none">
<path d="M119.55,616.3v-3.3M119.55,49.0v3.3"/>
<path d="M249.14,616.3v-3.3M249.14,49.0v3.3"/>
<path d="M314.94,616.3v-3.3M314.94,49.0v3.3"/>
<path d="M361.62,616.3v-3.3M361.62,49.0v3.3"/>
<path d="M397.83,616.3v-3.3M397.83,49.0v3.3"/>
<path d="M427.42,616.3v-3.3M427.42,49.0v3.3"/>
<path d="M452.44,616.3v-3.3M452.44,49.0v3.3"/>
<path d="M474.11,616.3v-3.3M474.11,49.0v3.3"/>
<path d="M493.22,616.3v-3.3M493.22,49.0v3.3"/>
<path d="M622.81,616.3v-3.3M622.81,49.0v3.3"/>
<path d="M688.61,616.3v-3.3M688.61,49.0v3.3"/>
<path d="M735.29,616.3v-3.3M735.29,49.0v3.3"/>
<path d="M771.50,616.3v-3.3M771.50,49.0v3.3"/>
<path d="M801.09,616.3v-3.3M801.09,49.0v3.3"/>
<path d="M826.11,616.3v-3.3M826.11,49.0v3.3"/>
<path d="M847.78,616.3v-3.3M847.78,49.0v3.3"/>
<path d="M866.89,616.3v-3.3M866.89,49.0v3.3"/>
<path d="M996.48,616.3v-3.3M996.48,49.0v3.3"/>
<path d="M1062.28,616.3v-3.3M1062.28,49.0v3.3"/>
<path d="M1108.96,616.3v-3.3M1108.96,49.0v3.3"/>
<path d="M1145.17,616.3v-3.3M1145.17,49.0v3.3"/>
<path d="M1174.76,616.3v-3.3M1174.76,49.0v3.3"/>
<path d="M102.2,608.16h3.3M1195.4,608.16h-3.3"/>
<path d="M102.2,573.44h3.3M1195.4,573.44h-3.3"/>
<path d="M102.2,556.07h3.3M1195.4,556.07h-3.3"/>
<path d="M102.2,538.71h3.3M1195.4,538.71h-3.3"/>
<path d="M102.2,521.34h3.3M1195.4,521.34h-3.3"/>
<path d="M102.2,486.62h3.3M1195.4,486.62h-3.3"/>
<path d="M102.2,469.25h3.3M1195.4,469.25h-3.3"/>
<path d="M102.2,451.89h3.3M1195.4,451.89h-3.3"/>
<path d="M102.2,434.52h3.3M1195.4,434.52h-3.3"/>
<path d="M102.2,399.80h3.3M1195.4,399.80h-3.3"/>
<path d="M102.2,382.43h3.3M1195.4,382.43h-3.3"/>
<path d="M102.2,365.07h3.3M1195.4,365.07h-3.3"/>
<path d="M102.2,347.70h3.3M1195.4,347.70h-3.3"/>
<path d="M102.2,312.98h3.3M1195.4,312.98h-3.3"/>
<path d="M102.2,295.61h3.3M1195.4,295.61h-3.3"/>
<path d="M102.2,278.25h3.3M1195.4,278.25h-3.3"/>
<path d="M102.2,260.88h3.3M1195.4,260.88h-3.3"/>
<path d="M102.2,226.16h3.3M1195.4,226.16h-3.3"/>
<path d="M102.2,208.79h3.3M1195.4,208.79h-3.3"/>
<path d="M102.2,191.43h3.3M1195.4,191.43h-3.3"/>
<path d="M102.2,174.06h3.3M1195.4,174.06h-3.3"/>
<path d="M102.2,139.34h3.3M1195.4,139.34h-3.3"/>
<path d="M102.2,121.97h3.3M1195.4,121.97h-3.3"/>
<path d="M102.2,104.61h3.3M1195.4,104.61h-3.3"/>
<path d="M102.2,87.24h3.3M1195.4,87.24h-3.3"/>
<path d="M102.2,52.52h3.3M1195.4,52.52h-3.3"/>
</g>
<rect x="102.2" y="49.0" width="1093.2" height="567.3" fill="none" stroke="#000" stroke-width="1.4"/>
<text x="109.2" y="35.8" font-size="32">10<tspan dy="-11.2" font-size="22.4">0</tspan></text>
<text x="109.2" y="646.0" font-size="32">10<tspan dy="-12.0" font-size="22.4">0</tspan></text>
<text x="482.9" y="35.8" font-size="32">10<tspan dy="-11.2" font-size="22.4">1</tspan></text>
<text x="482.9" y="646.0" font-size="32">10<tspan dy="-12.0" font-size="22.4">1</tspan></text>
<text x="855.8" y="35.8" font-size="32">10<tspan dy="-11.2" font-size="22.4">2</tspan></text>
<text x="855.8" y="646.0" font-size="32">10<tspan dy="-12.0" font-size="22.4">2</tspan></text>
<text x="97.5" y="601.8" font-size="32" text-anchor="end">0.0</text>
<text x="97.5" y="515.3" font-size="32" text-anchor="end">0.1</text>
<text x="97.5" y="429.3" font-size="32" text-anchor="end">0.2</text>
<text x="97.5" y="344.0" font-size="32" text-anchor="end">0.3</text>
<text x="97.5" y="256.0" font-size="32" text-anchor="end">0.4</text>
<text x="97.5" y="170.0" font-size="32" text-anchor="end">0.5</text>
<text x="97.5" y="82.7" font-size="32" text-anchor="end">0.6</text>
<text x="649.2" y="684.6" font-size="31.1" text-anchor="middle">Period (d)</text>
<text transform="translate(34.3,332.9) rotate(-90)" font-size="31.4" textLength="165" lengthAdjust="spacing" text-anchor="middle">GLS power</text>
<rect x="931.5" y="57.9" width="254.5" height="107.8" rx="3.5" ry="3.5" fill="#fff" fill-opacity="0.8" stroke="#ccc" stroke-opacity="0.8" stroke-width="1.33"/>
<line x1="938.3" x2="973.7" y1="71.9" y2="71.9" stroke="#008000" stroke-opacity="0.5" stroke-width="2.7" stroke-linecap="square"/>
<line x1="938.3" x2="973.7" y1="97.35" y2="97.35" stroke="#0000ff" stroke-width="2.7" stroke-linecap="square"/>
<line x1="938.3" x2="973.7" y1="123.15" y2="123.15" stroke="#f00" stroke-opacity="0.88" stroke-width="2.7" stroke-dasharray="9.67 4.18"/>
<line x1="938.3" x2="973.7" y1="148.8" y2="148.8" stroke="#000" stroke-opacity="0.88" stroke-width="2.7" stroke-dasharray="9.67 4.18"/>
<text x="986.3" y="79.4" font-size="17.65">GLS HARPS-N RV data</text>
<text x="986.3" y="104.7" font-size="17.65">GLS residuals</text>
<text x="986.3" y="130.1" font-size="17.65">Prot (d) = 35.23</text>
<text x="986.3" y="155.5" font-size="17.65">P_p1 (d) = 19.47</text>
</svg>
</body></html>
